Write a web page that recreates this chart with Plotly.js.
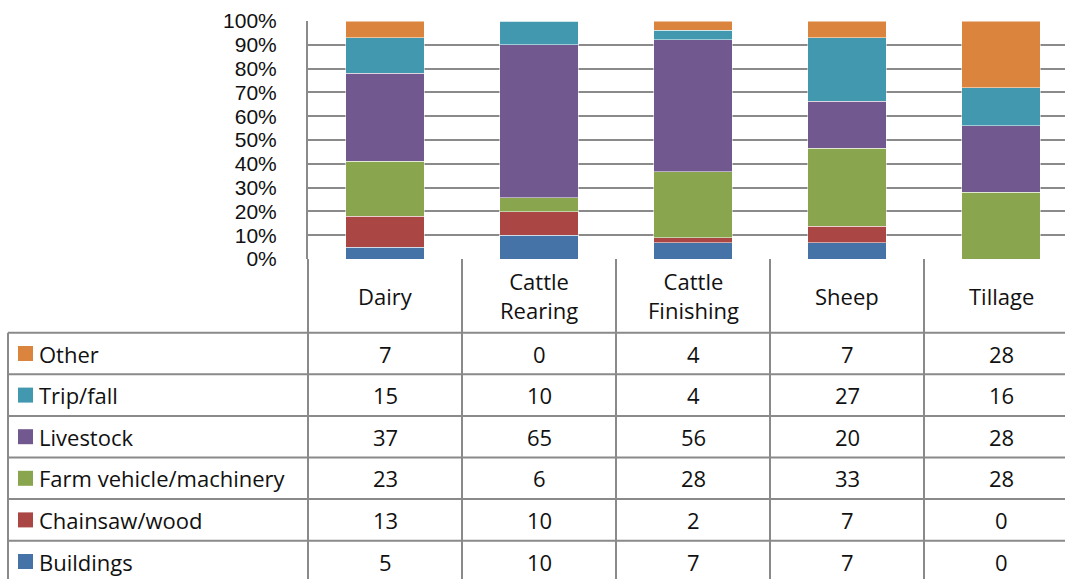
<!DOCTYPE html>
<html>
<head>
<meta charset="utf-8">
<script src="https://cdn.plot.ly/plotly-3.0.1.min.js"></script>
<style>html,body{margin:0;padding:0;background:#fff;}#chart{width:1065px;height:579px;}</style>
</head>
<body>
<div id="chart"></div>
<script>
// ---- data ----
var categories = ["Dairy", "Cattle<br>Rearing", "Cattle<br>Finishing", "Sheep", "Tillage"];
var seriesNames = ["Other", "Trip/fall", "Livestock", "Farm vehicle/machinery", "Chainsaw/wood", "Buildings"];
var other      = [7, 0, 4, 7, 28];
var tripFall   = [15, 10, 4, 27, 16];
var livestock  = [37, 65, 56, 20, 28];
var farmVeh    = [23, 6, 28, 33, 28];
var chainsaw   = [13, 10, 2, 7, 0];
var buildings  = [5, 10, 7, 7, 0];
var yTickVals  = [0, 10, 20, 30, 40, 50, 60, 70, 80, 90, 100];
var yTickText  = ["0%", "10%", "20%", "30%", "40%", "50%", "60%", "70%", "80%", "90%", "100%"];

// ---- styles ----
var colors = {
  "Other": "#DB843D",
  "Trip/fall": "#4198AF",
  "Livestock": "#71588F",
  "Farm vehicle/machinery": "#89A54E",
  "Chainsaw/wood": "#AA4643",
  "Buildings": "#4572A7"
};
var valuesByName = {
  "Other": other, "Trip/fall": tripFall, "Livestock": livestock,
  "Farm vehicle/machinery": farmVeh, "Chainsaw/wood": chainsaw, "Buildings": buildings
};
var FONT = "'Open Sans', 'Liberation Sans', sans-serif";
var TICKFONT = "'Liberation Sans', Arial, sans-serif";
var TXT = "#111111";
var GRID = "#8a8a8a";

// pixel geometry helpers (plot area: x 308..1065, y 21..259)
var L = 308, R = 1065, T = 21, B = 259;
function px(x) { return (x - L) / (R - L); }
function py(y) { return (B - y) / (B - T); }

var xIdx = categories.map(function (c, i) { return i; });

// bars stacked bottom -> top
var stackOrder = seriesNames.slice().reverse();
var traces = stackOrder.map(function (name) {
  return {
    type: "bar",
    name: name,
    x: xIdx,
    y: valuesByName[name],
    width: 0.51,
    marker: { color: colors[name], line: { color: "rgba(255,255,255,0.5)", width: 1 } },
    hoverinfo: "name+y",
    showlegend: false
  };
});

// table geometry
var colW = 154;
var colLines = [308, 462, 616, 770, 924];
var headTop = 259, headBottom = 332.7, rowH = 41.6;
var shapes = [];
function hline(y, x0, x1) {
  shapes.push({ type: "line", xref: "paper", yref: "paper", x0: px(x0), x1: px(x1), y0: py(y), y1: py(y),
    line: { color: GRID, width: 2 } });
}
function vline(x, y0, y1) {
  shapes.push({ type: "line", xref: "paper", yref: "paper", x0: px(x), x1: px(x), y0: py(y0), y1: py(y1),
    line: { color: GRID, width: 2 } });
}
colLines.forEach(function (x) { vline(x, headTop, 579); });
vline(8, headBottom, 579);
for (var r = 0; r <= seriesNames.length; r++) {
  hline(headBottom + r * rowH, 8, R);
}

var annotations = [];
// category headers
categories.forEach(function (c, i) {
  annotations.push({
    xref: "paper", yref: "paper", x: px(L + colW * (i + 0.5)), y: py((headTop + headBottom) / 2),
    text: c, showarrow: false, xanchor: "center", yanchor: "middle",
    font: { family: FONT, size: 22, color: TXT }
  });
});
// rows
seriesNames.forEach(function (name, r) {
  var yc = headBottom + rowH * (r + 0.5);
  shapes.push({ type: "rect", xref: "paper", yref: "paper",
    x0: px(18), x1: px(33), y0: py(yc - 7.5), y1: py(yc + 7.5),
    fillcolor: colors[name], line: { width: 0 } });
  annotations.push({
    xref: "paper", yref: "paper", x: px(37), y: py(yc),
    text: name, showarrow: false, xanchor: "left", yanchor: "middle",
    font: { family: FONT, size: 22, color: TXT }
  });
  valuesByName[name].forEach(function (v, i) {
    annotations.push({
      xref: "paper", yref: "paper", x: px(L + colW * (i + 0.5)), y: py(yc),
      text: String(v), showarrow: false, xanchor: "center", yanchor: "middle",
      font: { family: FONT, size: 22, color: TXT }
    });
  });
});

var layout = {
  width: 1065, height: 579,
  margin: { l: L, r: 1065 - R, t: T, b: 579 - B, pad: 0 },
  paper_bgcolor: "#ffffff", plot_bgcolor: "#ffffff",
  barmode: "stack", barnorm: "percent",
  showlegend: false,
  xaxis: {
    range: [-0.5, -0.5 + (R - L) / colW], showticklabels: false, ticks: "",
    showgrid: false, zeroline: false, showline: false, fixedrange: true
  },
  yaxis: {
    range: [0, 100], tickmode: "array", tickvals: yTickVals, ticktext: yTickText,
    showgrid: true, gridcolor: GRID, gridwidth: 2,
    zeroline: false, showline: true, linecolor: GRID, linewidth: 2,
    ticks: "", ticklabelstandoff: 25,
    tickfont: { family: TICKFONT, size: 21, color: TXT }, fixedrange: true
  },
  shapes: shapes,
  annotations: annotations
};

Plotly.newPlot("chart", traces, layout, { displayModeBar: false, staticPlot: true });
</script>
</body>
</html>
